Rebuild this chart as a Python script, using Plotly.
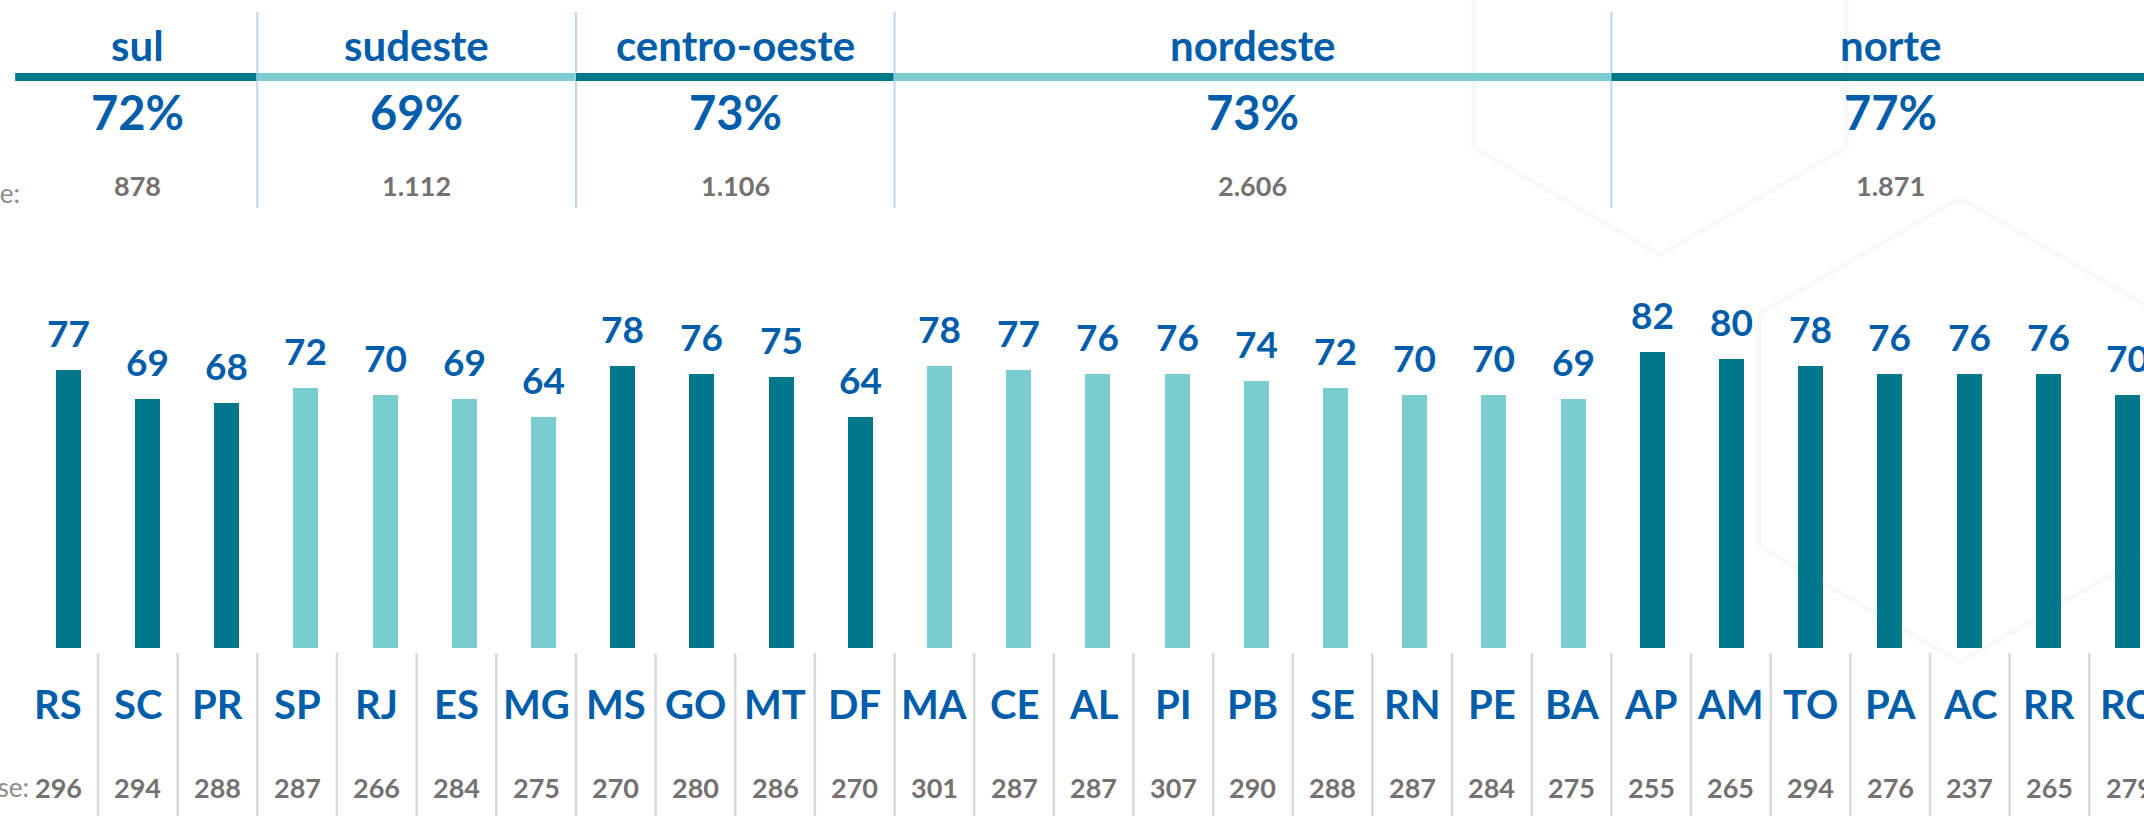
import math
import plotly.graph_objects as go

# Share (%) by state, grouped by region
states = ["RS", "SC", "PR", "SP", "RJ", "ES", "MG", "MS", "GO", "MT", "DF",
          "MA", "CE", "AL", "PI", "PB", "SE", "RN", "PE", "BA",
          "AP", "AM", "TO", "PA", "AC", "RR", "RO"]
state_pct = [77, 69, 68, 72, 70, 69, 64, 78, 76, 75, 64,
             78, 77, 76, 76, 74, 72, 70, 70, 69,
             82, 80, 78, 76, 76, 76, 70]
state_base = [296, 294, 288, 287, 266, 284, 275, 270, 280, 286, 270,
              301, 287, 287, 307, 290, 288, 287, 284, 275,
              255, 265, 294, 276, 237, 265, 279]

regions = ["sul", "sudeste", "centro-oeste", "nordeste", "norte"]
region_pct = ["72%", "69%", "73%", "73%", "77%"]
region_base = ["878", "1.112", "1.106", "2.606", "1.871"]
region_size = [3, 4, 4, 9, 7]

DARK = "#00778B"
LIGHT = "#7ACDCF"
BLUE = "#005DAA"
GRAY = "#767171"
GRAY_LIGHT = "#8C8C8C"
FONT = "Lato"

W, H = 2144, 816
region_colors = [DARK if r % 2 == 0 else LIGHT for r in range(len(regions))]

# region index of every state
state_region = []
for r, n in enumerate(region_size):
    state_region += [r] * n
bar_colors = [region_colors[r] for r in state_region]


def py(px):
    """pixel row -> paper y"""
    return 1 - px / H


def hexagon_path(cx, cy, r):
    """pointy-top hexagon outline in pixel coordinates, as a paper-space path"""
    pts = []
    for k in range(6):
        a = math.radians(90 + 60 * k)
        pts.append((cx + r * math.cos(a), cy - r * math.sin(a)))
    d = "M " + " L ".join(f"{x / W:.5f},{py(y):.5f}" for x, y in pts) + " Z"
    return d


fig = go.Figure()
xs = list(range(len(states)))
fig.add_trace(go.Bar(
    x=xs, y=state_pct, marker=dict(color=bar_colors, line=dict(width=0)),
    width=0.316, hoverinfo="skip", showlegend=False,
))

annotations = []
shapes = []

# very faint decorative hexagons in the background
for cx, cy, r in [(1960, 430, 232), (1660, 40, 215)]:
    shapes.append(dict(
        type="path", xref="paper", yref="paper", path=hexagon_path(cx, cy, r),
        line=dict(color="#F7F8F9", width=5), fillcolor="rgba(0,0,0,0)",
        layer="below",
    ))

# value labels above bars
for i, v in enumerate(state_pct):
    annotations.append(dict(
        x=i, y=v, xref="x", yref="y", text=f"<b>{v}</b>", showarrow=False,
        yanchor="bottom", yshift=13,
        font=dict(family=FONT, size=37, color=BLUE),
    ))

# table row: state codes and sample sizes (table axis x2)
for i, (s, b) in enumerate(zip(states, state_base)):
    annotations.append(dict(
        x=i, y=py(704), xref="x2", yref="paper", text=f"<b>{s}</b>",
        showarrow=False, yanchor="middle",
        font=dict(family=FONT, size=40, color=BLUE),
    ))
    annotations.append(dict(
        x=i, y=py(787), xref="x2", yref="paper", text=f"<b>{b}</b>",
        showarrow=False, yanchor="middle",
        font=dict(family=FONT, size=27, color=GRAY),
    ))

# cell dividers of the bottom table
for k in range(len(states) - 1):
    shapes.append(dict(
        type="line", xref="x2", yref="paper", x0=k + 0.5, x1=k + 0.5,
        y0=py(653), y1=py(816), line=dict(color="#D9D9D9", width=2.5),
    ))

annotations.append(dict(
    x=31 / W, y=py(787), xref="paper", yref="paper", text="Base:",
    showarrow=False, xanchor="right", yanchor="middle",
    font=dict(family=FONT, size=26, color=GRAY_LIGHT),
))
annotations.append(dict(
    x=22 / W, y=py(193), xref="paper", yref="paper", text="Base:",
    showarrow=False, xanchor="right", yanchor="middle",
    font=dict(family=FONT, size=26, color=GRAY_LIGHT),
))

# region header
start = 0
for r, n in enumerate(region_size):
    end = start + n - 1
    mid = (start + end) / 2
    left = start - 0.5 if r > 0 else -0.54
    right = end + 0.5 if r < len(regions) - 1 else 27.5
    shapes.append(dict(
        type="line", xref="x2", yref="paper", x0=left, x1=right,
        y0=py(77), y1=py(77), line=dict(color=region_colors[r], width=8),
    ))
    if r < len(regions) - 1:
        shapes.append(dict(
            type="line", xref="x2", yref="paper", x0=end + 0.5, x1=end + 0.5,
            y0=py(12), y1=py(208), line=dict(color="#B9D6F0", width=2),
        ))
    annotations.append(dict(
        x=mid, y=py(45), xref="x2", yref="paper", text=f"<b>{regions[r]}</b>",
        showarrow=False, yanchor="middle",
        font=dict(family=FONT, size=42, color=BLUE),
    ))
    annotations.append(dict(
        x=mid, y=py(112), xref="x2", yref="paper", text=f"<b>{region_pct[r]}</b>",
        showarrow=False, yanchor="middle",
        font=dict(family=FONT, size=47, color=BLUE),
    ))
    annotations.append(dict(
        x=mid, y=py(186), xref="x2", yref="paper", text=f"<b>{region_base[r]}</b>",
        showarrow=False, yanchor="middle",
        font=dict(family=FONT, size=27, color=GRAY),
    ))
    start = end + 1

# bar axis: first bar centred at 68 px, 79.2 px pitch
bar_pitch, bar_first = 79.2, 68.3
bx0 = -bar_first / bar_pitch
# table axis: first cell centred at 58 px, 79.65 px pitch
cell_pitch, cell_first = 79.65, 58.2
cx0 = -cell_first / cell_pitch
# value axis: zero at 648 px, 3.61 px per point
ppu, zero_px = 3.61, 648

fig.update_layout(
    width=W, height=H,
    margin=dict(l=0, r=0, t=0, b=0),
    paper_bgcolor="#FFFFFF", plot_bgcolor="rgba(0,0,0,0)",
    xaxis=dict(range=[bx0, bx0 + W / bar_pitch], visible=False, fixedrange=True),
    xaxis2=dict(range=[cx0, cx0 + W / cell_pitch], visible=False,
                overlaying="x", anchor="y", fixedrange=True),
    yaxis=dict(range=[-(H - zero_px) / ppu, zero_px / ppu], visible=False,
               fixedrange=True),
    annotations=annotations,
    shapes=shapes,
    bargap=0,
)

fig.write_html("out.html")
